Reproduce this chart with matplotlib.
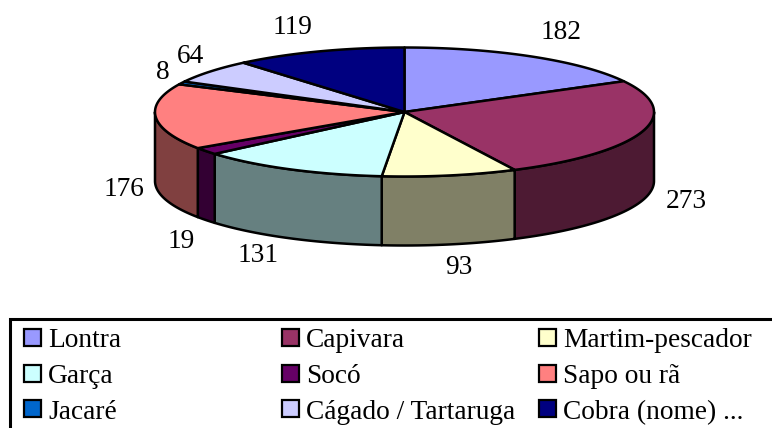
import numpy as np
import matplotlib
matplotlib.use("Agg")
import matplotlib.pyplot as plt
from matplotlib.patches import Polygon, Rectangle
from matplotlib.colors import to_rgb

categories = ["Lontra", "Capivara", "Martim-pescador", "Garça", "Socó", "Sapo ou rã",
              "Jacaré", "Cágado / Tartaruga", "Cobra (nome) ..."]
values = [182, 273, 93, 131, 19, 176, 8, 64, 119]
colors = ["#9999FF", "#993366", "#FFFFCC", "#CCFFFF", "#660066", "#FF8080",
          "#0066CC", "#CCCCFF", "#000080"]

# layout (pixels)
CX, CY, RX, RY, DEPTH = 404.5, 112, 249.5, 64.5, 69
LW = 1.8
FS = 19.7
label_pos = [(561, 32), (686, 201), (459, 268), (258, 255), (181, 241),
             (124, 189), (163, 72), (191, 56), (292, 27)]
legend_cols = [(24, 48), (282, 306), (539, 563)]
legend_swatch_y = [337.5, 373, 408.5]
legend_baseline = [347, 383, 419]
SW = 17

plt.rcParams["font.family"] = ["Liberation Serif", "DejaVu Serif"]
fig = plt.figure(figsize=(7.72, 4.28), dpi=100)
ax = fig.add_axes([0, 0, 1, 1])
ax.set_xlim(0, 772)
ax.set_ylim(428, 0)
ax.axis("off")


def rim(t, dy=0.0):
    return np.column_stack([CX + RX * np.sin(t), CY + dy - RY * np.cos(t)])


edges = np.concatenate([[0], np.cumsum(values)]) / np.sum(values) * 2 * np.pi

# Side walls on the front half of the disc
for i, col in enumerate(colors):
    a, b = max(edges[i], np.pi / 2), min(edges[i + 1], 3 * np.pi / 2)
    if b <= a:
        continue
    t = np.linspace(a, b, 80)
    dark = tuple(c * 0.5 for c in to_rgb(col))
    pts = np.vstack([rim(t), rim(t[::-1], DEPTH)])
    ax.add_patch(Polygon(pts, closed=True, fc=dark, ec="black", lw=LW, joinstyle="round"))

# Top face
for i, col in enumerate(colors):
    t = np.linspace(edges[i], edges[i + 1], 120)
    pts = np.vstack([[CX, CY], rim(t)])
    ax.add_patch(Polygon(pts, closed=True, fc=col, ec="black", lw=LW, joinstyle="round"))

# Value labels
for v, (x, y) in zip(values, label_pos):
    ax.text(x, y, str(v), ha="center", va="center", fontsize=FS, color="black")

# Legend
ax.add_patch(Rectangle((10, 319), 800, 140, fc="white", ec="black", lw=2.2, clip_on=True))
for i, name in enumerate(categories):
    sx, tx = legend_cols[i % 3]
    row = i // 3
    ax.add_patch(Rectangle((sx, legend_swatch_y[row] - SW / 2), SW, SW,
                           fc=colors[i], ec="black", lw=1.6))
    ax.text(tx, legend_baseline[row], name, ha="left", va="baseline", fontsize=FS, color="black")

fig.savefig("out.png", dpi=100, facecolor="white")
